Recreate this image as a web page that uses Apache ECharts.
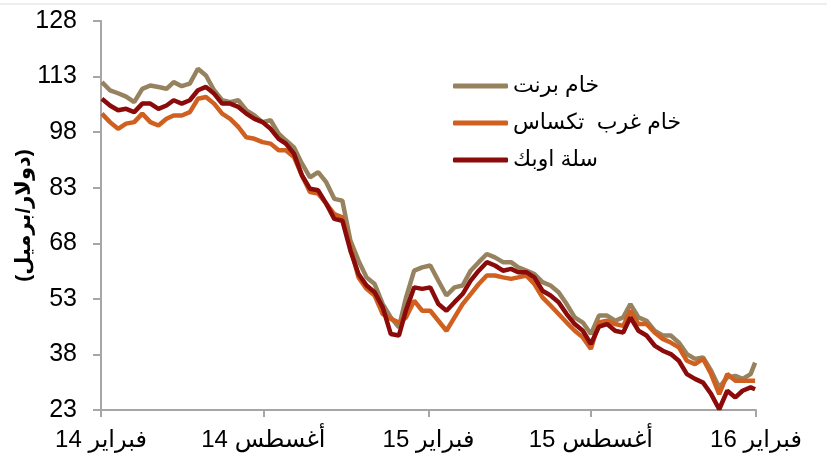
<!DOCTYPE html>
<html>
<head>
<meta charset="utf-8">
<script src="https://cdn.jsdelivr.net/npm/echarts@6/dist/echarts.min.js"></script>
<style>html,body{margin:0;padding:0;background:#fff}#c{width:827px;height:464px}</style>
</head>
<body>
<div id="c"></div>
<script>
// Day offsets from 1 Feb 2014
const days = [1,10,19,28,37,46,55,64,73,81,90,99,108,117,126,135,144,153,162,171,180,189,198,206,215,224,233,242,251,260,269,278,287,296,305,314,323,332,340,349,358,367,376,385,394,403,412,421,430,439,448,457,465,474,483,492,501,510,519,528,537,546,555,564,573,582,590,599,608,617,626,635,644,653,662,671,680,689,698,707,715,724,729];

const brent = [111.5,109.3,108.5,107.6,106.1,109.7,110.6,110.2,109.7,111.5,110.4,111.1,115.1,113.3,109.3,106.6,106.1,106.6,103.9,102.5,100.7,101.2,97.6,95.8,93.9,89.5,85.8,87.2,84.5,80,79.5,68.7,63.3,58.8,57,51.6,48,45.3,53.4,60.6,61.5,62,57.9,53.9,56.1,56.6,60.6,62.9,65.1,64.2,62.9,62.9,61.5,60.6,59.7,57.5,56.6,54.8,51.6,48,46.6,43.5,48.5,48.5,47.1,48,51.6,48,47.1,44.4,43.1,43.1,41.2,38.1,36.8,37.2,33.6,29.1,31.8,32.2,31.4,32.7,35.8];

const wti = [103,100.7,98.9,100.3,100.7,103,100.7,99.8,101.6,102.5,102.5,103.4,107,107.5,105.7,103,101.6,99.4,96.6,96.2,95.3,94.9,93.1,93.1,91.3,86.3,81.8,81.4,78.7,75.9,75,66.9,58.8,55.7,53.9,48.9,47.6,46.6,48,52.5,49.8,49.8,47.1,44.4,48,51.6,54.3,57,59.3,59.3,58.8,58.4,58.8,59.3,57,53.4,51.2,48.9,46.6,44.4,42.6,39.5,46.6,47.1,46.2,45.7,49.8,46.2,46.2,43.9,42.2,41.2,39.9,36.3,35.4,36.8,32.7,27.3,32.7,30.9,30.9,30.9,30.9];

const opec = [107,105.2,103.9,104.3,103.4,105.7,105.7,104.3,105.2,106.6,105.7,106.6,109.3,110.2,108.4,105.7,105.7,104.8,103,101.6,100.7,98.9,96.2,94.9,92.2,86.3,82.7,82.3,78.7,74.6,74.1,66,59.7,56.6,54.8,50.7,43.5,43.1,50,56.1,55.7,56.1,51.6,49.8,52.1,54.3,57.9,60.6,62.9,62,60.6,61.1,60.2,60.2,58.8,55.2,53.9,52.1,48.9,46.2,44.4,40.8,45.5,46.2,44.4,43.9,48,44.4,43.1,40.4,39,38.1,36.3,32.7,31.4,30.4,27.3,23.2,28.2,26.4,28.2,29.1,28.6];

const seriesNames = ['خام برنت', 'خام غرب  تكساس', 'سلة اوبك'];
const tickDays = [0, 181, 365, 546, 730];
const tickLabels = ['14 فبراير', '14 أغسطس', '15 فبراير', '15 أغسطس', '16 فبراير'];
const yTitle = '(دولار/برميل)';

const pair = arr => days.map((d, i) => [d, arr[i]]);
const font = "'Liberation Sans', 'DejaVu Sans', sans-serif";

const chart = echarts.init(document.getElementById('c'), null, {renderer: 'canvas'});
chart.setOption({
  animation: false,
  backgroundColor: '#fff',
  grid: {left: 101, right: 71, top: 21, bottom: 54, containLabel: false, outerBoundsMode: 'none'},
  graphic: [{type: 'line', shape: {x1: 0, y1: 4, x2: 827, y2: 4}, style: {stroke: '#dcdcdc', lineWidth: 1}}],
  legend: {
    orient: 'vertical', left: 448, top: 70,
    itemWidth: 55, itemHeight: 5, itemGap: 15,
    icon: 'roundRect',
    textStyle: {fontFamily: font, fontSize: 22, color: '#000', lineHeight: 22},
    data: seriesNames
  },
  xAxis: {
    type: 'value', min: 0, max: 730,
    splitLine: {show: false},
    axisLine: {lineStyle: {color: '#a6a6a6', width: 2}},
    axisTick: {show: true, length: 7, customValues: tickDays, lineStyle: {color: '#a6a6a6', width: 2}},
    axisLabel: {customValues: tickDays, formatter: v => tickLabels[tickDays.indexOf(v)], fontFamily: font, fontSize: 24, color: '#000', margin: 18}
  },
  yAxis: {
    type: 'value', min: 23, max: 128, interval: 15,
    name: yTitle, nameLocation: 'middle', nameRotate: 90, nameGap: 66, nameMoveOverlap: false,
    nameTextStyle: {fontFamily: font, fontSize: 21, fontWeight: 'bold', color: '#000'},
    splitLine: {show: false},
    axisLine: {show: true, lineStyle: {color: '#a6a6a6', width: 2}},
    axisTick: {show: true, length: 8, lineStyle: {color: '#a6a6a6', width: 2}},
    axisLabel: {fontFamily: font, fontSize: 25, color: '#000', margin: 24}
  },
  series: [
    {name: seriesNames[0], type: 'line', data: pair(brent), showSymbol: false, lineStyle: {color: '#97825f', width: 4.5}, itemStyle: {color: '#97825f'}},
    {name: seriesNames[1], type: 'line', data: pair(wti), showSymbol: false, lineStyle: {color: '#d0601f', width: 4.5}, itemStyle: {color: '#d0601f'}},
    {name: seriesNames[2], type: 'line', data: pair(opec), showSymbol: false, lineStyle: {color: '#8b0a0a', width: 4.5}, itemStyle: {color: '#8b0a0a'}}
  ]
});
</script>
</body>
</html>
